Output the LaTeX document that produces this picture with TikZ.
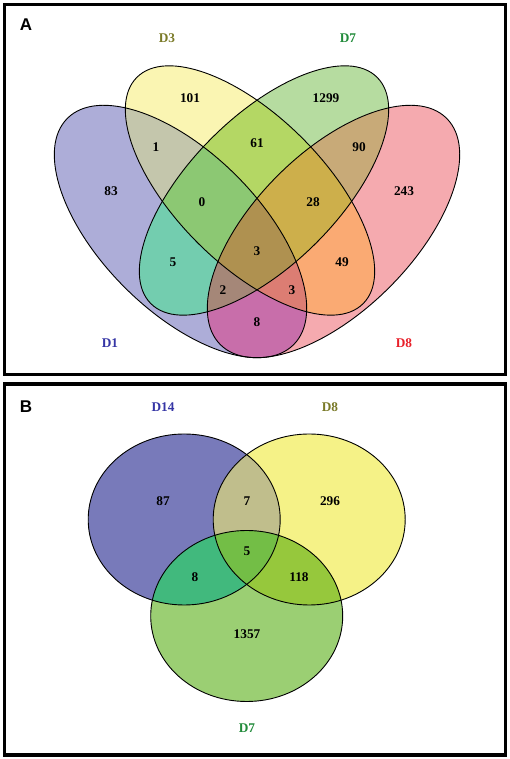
\documentclass[tikz,border=0pt]{standalone}
\usepackage{fontspec}
\setmainfont{Liberation Serif}
\newfontfamily\panelfont{Liberation Sans}
\usepackage{tikz}

% region colours, panel A
\definecolor{rOne}{HTML}{ADADD8}
\definecolor{rThree}{HTML}{FAF5B2}
\definecolor{rSeven}{HTML}{B6DCA0}
\definecolor{rEight}{HTML}{F5AAAF}
\definecolor{rOneThree}{HTML}{C4C6AC}
\definecolor{rOneSeven}{HTML}{73CDAF}
\definecolor{rOneEight}{HTML}{C86EAA}
\definecolor{rThreeSeven}{HTML}{B4D764}
\definecolor{rThreeEight}{HTML}{FAAA73}
\definecolor{rSevenEight}{HTML}{C8AA78}
\definecolor{rOneThreeSeven}{HTML}{8CC873}
\definecolor{rOneThreeEight}{HTML}{DC7D73}
\definecolor{rOneSevenEight}{HTML}{A58778}
\definecolor{rThreeSevenEight}{HTML}{CDAF4B}
\definecolor{rAll}{HTML}{AF9150}
% region colours, panel B
\definecolor{sFourteen}{HTML}{787ABA}
\definecolor{sEight}{HTML}{F5F287}
\definecolor{sSeven}{HTML}{9BCF73}
\definecolor{sFourteenEight}{HTML}{C0BE8C}
\definecolor{sFourteenSeven}{HTML}{41B97D}
\definecolor{sEightSeven}{HTML}{96C83C}
\definecolor{sAll}{HTML}{73BE46}
% label colours
\definecolor{tBlue}{HTML}{3535A5}
\definecolor{tOlive}{HTML}{7A7A28}
\definecolor{tGreen}{HTML}{228B3B}
\definecolor{tRed}{HTML}{E8202A}

\newcommand{\ellDone}{[rotate around={-45:(a1)}] (a1) ellipse (160 and 79)}
\newcommand{\ellDthree}{[rotate around={-45:(a3)}] (a3) ellipse (160 and 74)}
\newcommand{\ellDseven}{[rotate around={45:(a7)}] (a7) ellipse (160 and 74)}
\newcommand{\ellDeight}{[rotate around={45:(a8)}] (a8) ellipse (160 and 79)}
\newcommand{\ellBfourteen}{(b14) ellipse (96 and 85.5)}
\newcommand{\ellBeight}{(b8) ellipse (96 and 85.5)}
\newcommand{\ellBseven}{(b7) ellipse (96 and 85.5)}

\begin{document}
\begin{tikzpicture}[x=1pt, y=1pt,
  num/.style={font=\fontsize{13.3}{15}\selectfont\bfseries, inner sep=0pt},
  panel/.style={font=\panelfont\fontsize{17}{19}\selectfont\bfseries, inner sep=0pt},
  frame/.style={draw, line width=3.5pt},
  rim/.style={draw, line width=0.9pt}]
\useasboundingbox (0,0) rectangle (510,759);

% panel A
\coordinate (a1) at (180.5,527.5);
\coordinate (a3) at (250,568.5);
\coordinate (a7) at (264,568.5);
\coordinate (a8) at (333.5,527.5);
\fill[rOne] \ellDone;
\fill[rThree] \ellDthree;
\fill[rSeven] \ellDseven;
\fill[rEight] \ellDeight;
\begin{scope}\clip \ellDone; \fill[rOneThree] \ellDthree; \end{scope}
\begin{scope}\clip \ellDone; \fill[rOneSeven] \ellDseven; \end{scope}
\begin{scope}\clip \ellDone; \fill[rOneEight] \ellDeight; \end{scope}
\begin{scope}\clip \ellDthree; \fill[rThreeSeven] \ellDseven; \end{scope}
\begin{scope}\clip \ellDthree; \fill[rThreeEight] \ellDeight; \end{scope}
\begin{scope}\clip \ellDseven; \fill[rSevenEight] \ellDeight; \end{scope}
\begin{scope}\clip \ellDone; \clip \ellDthree; \fill[rOneThreeSeven] \ellDseven; \end{scope}
\begin{scope}\clip \ellDone; \clip \ellDthree; \fill[rOneThreeEight] \ellDeight; \end{scope}
\begin{scope}\clip \ellDone; \clip \ellDseven; \fill[rOneSevenEight] \ellDeight; \end{scope}
\begin{scope}\clip \ellDthree; \clip \ellDseven; \fill[rThreeSevenEight] \ellDeight; \end{scope}
\begin{scope}\clip \ellDone; \clip \ellDthree; \clip \ellDseven; \fill[rAll] \ellDeight; \end{scope}
\draw[rim] \ellDone;
\draw[rim] \ellDthree;
\draw[rim] \ellDseven;
\draw[rim] \ellDeight;

\node[panel] (pa) at (26,734) {A};
\node[num, text=tOlive] (la3) at (167,721) {D3};
\node[num, text=tGreen] (la7) at (348,721) {D7};
\node[num, text=tBlue] (la1) at (110,416) {D1};
\node[num, text=tRed] (la8) at (404,416) {D8};

\node[num] (n101) at (190,661) {101};
\node[num] (n1299) at (326,661) {1299};
\node[num] (n1) at (156,612) {1};
\node[num] (n61) at (257,616) {61};
\node[num] (n90) at (359,612) {90};
\node[num] (n83) at (111,568) {83};
\node[num] (n0) at (202,557) {0};
\node[num] (n28) at (313,557) {28};
\node[num] (n243) at (404,568) {243};
\node[num] (nall) at (257,508) {3};
\node[num] (n5) at (173,497) {5};
\node[num] (n49) at (342,497) {49};
\node[num] (n2) at (223,469) {2};
\node[num] (n3) at (292,469) {3};
\node[num] (n8) at (257,437) {8};

\draw[frame] (4.5,384.5) rectangle (505.5,754.5);

% panel B
\coordinate (b14) at (184.2,239.5);
\coordinate (b8) at (309.2,239.5);
\coordinate (b7) at (246.7,143);
\fill[sFourteen] \ellBfourteen;
\fill[sEight] \ellBeight;
\fill[sSeven] \ellBseven;
\begin{scope}\clip \ellBfourteen; \fill[sFourteenEight] \ellBeight; \end{scope}
\begin{scope}\clip \ellBfourteen; \fill[sFourteenSeven] \ellBseven; \end{scope}
\begin{scope}\clip \ellBeight; \fill[sEightSeven] \ellBseven; \end{scope}
\begin{scope}\clip \ellBfourteen; \clip \ellBeight; \fill[sAll] \ellBseven; \end{scope}
\draw[rim] \ellBfourteen;
\draw[rim] \ellBeight;
\draw[rim] \ellBseven;

\node[panel] (pb) at (26,352) {B};
\node[num, text=tBlue] (lb14) at (163,352) {D14};
\node[num, text=tOlive] (lb8) at (330,352) {D8};
\node[num, text=tGreen] (lb7) at (247,31) {D7};

\node[num] (m87) at (163,258) {87};
\node[num] (m7) at (247,258) {7};
\node[num] (m296) at (330,258) {296};
\node[num] (m5) at (247,208) {5};
\node[num] (m8) at (195,182) {8};
\node[num] (m118) at (299,182) {118};
\node[num] (m1357) at (247,125) {1357};

\draw[frame] (4.5,4) rectangle (505.5,375);
\end{tikzpicture}
\end{document}
